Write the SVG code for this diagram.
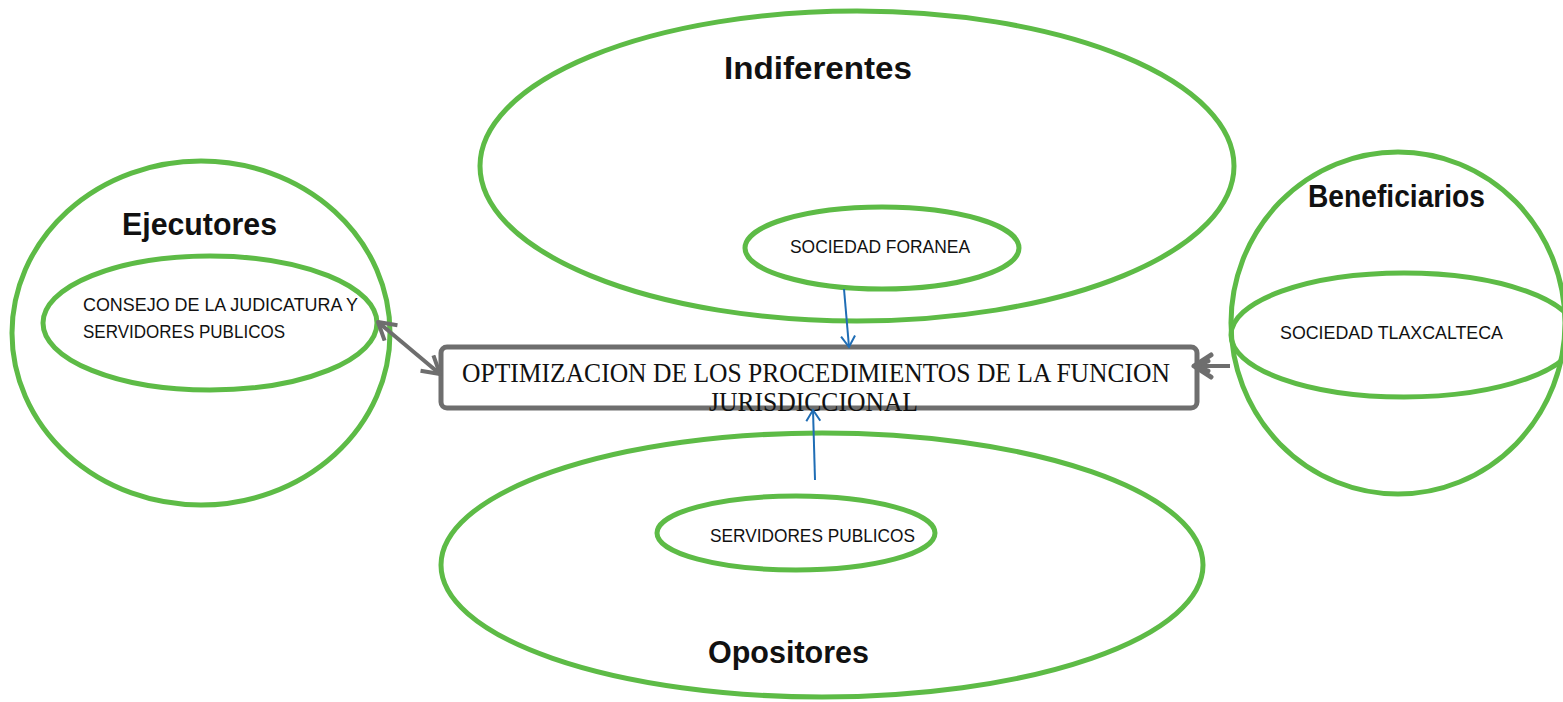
<svg xmlns="http://www.w3.org/2000/svg" width="1563" height="702" viewBox="0 0 1563 702">
<style>
.g{fill:none;stroke:#5dbb46;stroke-width:5}
.t{font-family:"Liberation Sans",Arial,sans-serif;font-weight:bold;font-size:31px;fill:#111}
.s{font-family:"Liberation Sans",Arial,sans-serif;font-size:18px;fill:#111}
.m{font-family:"Liberation Serif","Times New Roman",serif;font-size:27px;fill:#111}
.blue{stroke:#1f6db5;stroke-width:2;fill:none}
.gray{stroke:#6e6e6e;stroke-width:4;fill:none}
</style>
<defs>
<marker id="ab" markerUnits="userSpaceOnUse" markerWidth="14" markerHeight="16" refX="12" refY="8" orient="auto-start-reverse" viewBox="0 0 14 16">
<path d="M1,1 L12,8 L1,15" fill="none" stroke="#1f6db5" stroke-width="2"/>
</marker>
<marker id="ag" markerUnits="userSpaceOnUse" markerWidth="22" markerHeight="24" refX="19" refY="12" orient="auto-start-reverse" viewBox="0 0 22 24">
<path d="M2,2 L19,12 L2,22" fill="none" stroke="#6e6e6e" stroke-width="4" stroke-linejoin="round"/>
</marker>
<marker id="ag2" markerUnits="userSpaceOnUse" markerWidth="24" markerHeight="28" refX="20" refY="14" orient="auto" viewBox="0 0 24 28">
<path d="M3,3 L20,14 L3,25 M6,9 L20,14 L6,19" fill="none" stroke="#6e6e6e" stroke-width="5" stroke-linejoin="round" stroke-linecap="round"/>
</marker>
</defs>
<rect width="1563" height="702" fill="#fff"/>

<g id="indiferentes">
<ellipse class="g" cx="857" cy="166" rx="377" ry="155"/>
<text class="t" x="724" y="79" textLength="188" lengthAdjust="spacingAndGlyphs">Indiferentes</text>
</g>
<g id="sociedad-foranea">
<ellipse class="g" cx="882" cy="248" rx="137" ry="41"/>
<text class="s" x="790" y="253" textLength="180" lengthAdjust="spacingAndGlyphs">SOCIEDAD FORANEA</text>
</g>

<g id="ejecutores">
<ellipse class="g" cx="201" cy="333" rx="189" ry="172"/>
<text class="t" x="122" y="235" textLength="155" lengthAdjust="spacingAndGlyphs">Ejecutores</text>
</g>
<g id="consejo">
<ellipse class="g" cx="210" cy="323" rx="167" ry="67"/>
<text class="s" x="83" y="311" textLength="275" lengthAdjust="spacingAndGlyphs">CONSEJO DE LA JUDICATURA  Y</text>
<text class="s" x="83" y="338" textLength="202" lengthAdjust="spacingAndGlyphs">SERVIDORES PUBLICOS</text>
</g>

<g id="beneficiarios">
<ellipse class="g" cx="1398" cy="323" rx="167" ry="171"/>
<text class="t" x="1308" y="207" textLength="177" lengthAdjust="spacingAndGlyphs">Beneficiarios</text>
</g>
<g id="sociedad-tlaxcalteca">
<ellipse class="g" cx="1404" cy="335" rx="173" ry="62"/>
<text class="s" x="1280" y="339" textLength="223" lengthAdjust="spacingAndGlyphs">SOCIEDAD TLAXCALTECA</text>
</g>

<g id="opositores">
<ellipse class="g" cx="822" cy="565" rx="381" ry="132"/>
<text class="t" x="708" y="663" textLength="161" lengthAdjust="spacingAndGlyphs">Opositores</text>
</g>
<g id="servidores-publicos">
<ellipse class="g" cx="796" cy="533" rx="139" ry="37"/>
<text class="s" x="710" y="542" textLength="205" lengthAdjust="spacingAndGlyphs">SERVIDORES PUBLICOS</text>
</g>

<g id="optimizacion">
<rect x="441" y="347" width="756" height="61" rx="6" fill="#fff" stroke="#6e6e6e" stroke-width="5"/>
<text class="m" x="462" y="382" textLength="708" lengthAdjust="spacingAndGlyphs">OPTIMIZACION DE LOS PROCEDIMIENTOS DE LA FUNCION</text>
<text class="m" x="709" y="411" textLength="209" lengthAdjust="spacingAndGlyphs">JURISDICCIONAL</text>
</g>

<g id="connectors">
<line class="blue" x1="844" y1="289" x2="849" y2="347" marker-end="url(#ab)"/>
<line class="blue" x1="815" y1="480" x2="813" y2="410" marker-end="url(#ab)"/>
<line class="gray" x1="378" y1="322" x2="440" y2="374" marker-start="url(#ag)" marker-end="url(#ag)"/>
<line class="gray" x1="1230" y1="366" x2="1194" y2="366" marker-end="url(#ag2)"/>
</g>
</svg>
